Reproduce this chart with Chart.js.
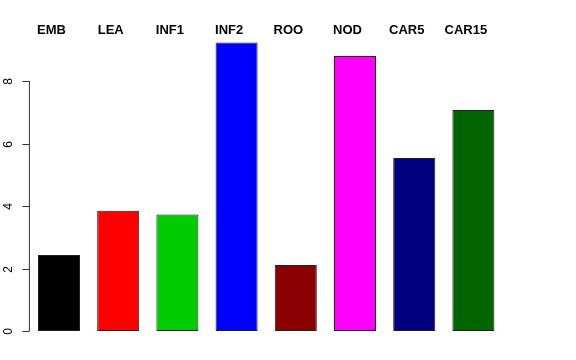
<!DOCTYPE html>
<html>
<head>
<meta charset="utf-8">
<script src="https://cdn.jsdelivr.net/npm/chart.js@4.4.1/dist/chart.umd.min.js"></script>
<style>
  html, body { margin: 0; padding: 0; background: #fff; }
  #wrap { width: 576px; height: 360px; position: relative; }
</style>
</head>
<body>
<div id="wrap"><canvas id="barChart"></canvas></div>
<script>
/* ── Data ───────────────────────────────────────────────── */

const categories = ['EMB', 'LEA', 'INF1', 'INF2', 'ROO', 'NOD', 'CAR5', 'CAR15'];
const values     = [2.43, 3.85, 3.73, 9.23, 2.11, 8.80, 5.54, 7.07];
const barColors  = ['#000000', '#FF0000', '#00CD00', '#0000FF', '#8B0000', '#FF00FF', '#000080', '#006400'];
const yTicks     = [0, 2, 4, 6, 8];

/* ── R-style axis + top labels ──────────────────────────── */

const rStyle = {
  id: 'rStyle',
  afterDraw(chart) {
    const ctx = chart.ctx;
    const x = chart.scales.x;
    const y = chart.scales.y;
    const axisX = chart.chartArea.left;

    ctx.save();

    // y axis line, only across tick range
    ctx.strokeStyle = '#333';
    ctx.lineWidth = 1;
    ctx.beginPath();
    ctx.moveTo(axisX, y.getPixelForValue(yTicks[0]));
    ctx.lineTo(axisX, y.getPixelForValue(yTicks[yTicks.length - 1]));
    ctx.stroke();

    // ticks + rotated labels
    ctx.fillStyle = '#000';
    ctx.font = '12px "Liberation Sans", Arial, sans-serif';
    ctx.textAlign = 'center';
    ctx.textBaseline = 'middle';
    yTicks.forEach(t => {
      const py = Math.round(y.getPixelForValue(t)) + 0.5;
      ctx.beginPath();
      ctx.moveTo(axisX - 7, py);
      ctx.lineTo(axisX, py);
      ctx.stroke();

      ctx.save();
      ctx.translate(axisX - 21, py);
      ctx.rotate(-Math.PI / 2);
      ctx.fillText(String(t), 0, 0);
      ctx.restore();
    });

    // category labels along the top
    ctx.font = 'bold 13px "Liberation Sans", Arial, sans-serif';
    categories.forEach((c, i) => {
      ctx.fillText(c, x.getPixelForValue(i) - 7.5, 30);
    });

    ctx.restore();
  }
};

/* ── Chart ──────────────────────────────────────────────── */

new Chart(document.getElementById('barChart'), {
  type: 'bar',
  data: {
    labels: categories,
    datasets: [{
      data: values,
      backgroundColor: barColors,
      borderColor: '#222',
      borderWidth: 1,
      borderSkipped: false,
      barPercentage: 0.71,
      categoryPercentage: 1
    }]
  },
  options: {
    responsive: true,
    maintainAspectRatio: false,
    animation: false,
    layout: { padding: { left: 29.4, right: 73, top: 18.5, bottom: 29 } },
    plugins: { legend: { display: false }, tooltip: { enabled: false } },
    scales: {
      x: { display: false, offset: true },
      y: { display: false, min: 0, max: 10 }
    }
  },
  plugins: [rStyle]
});
</script>
</body>
</html>
